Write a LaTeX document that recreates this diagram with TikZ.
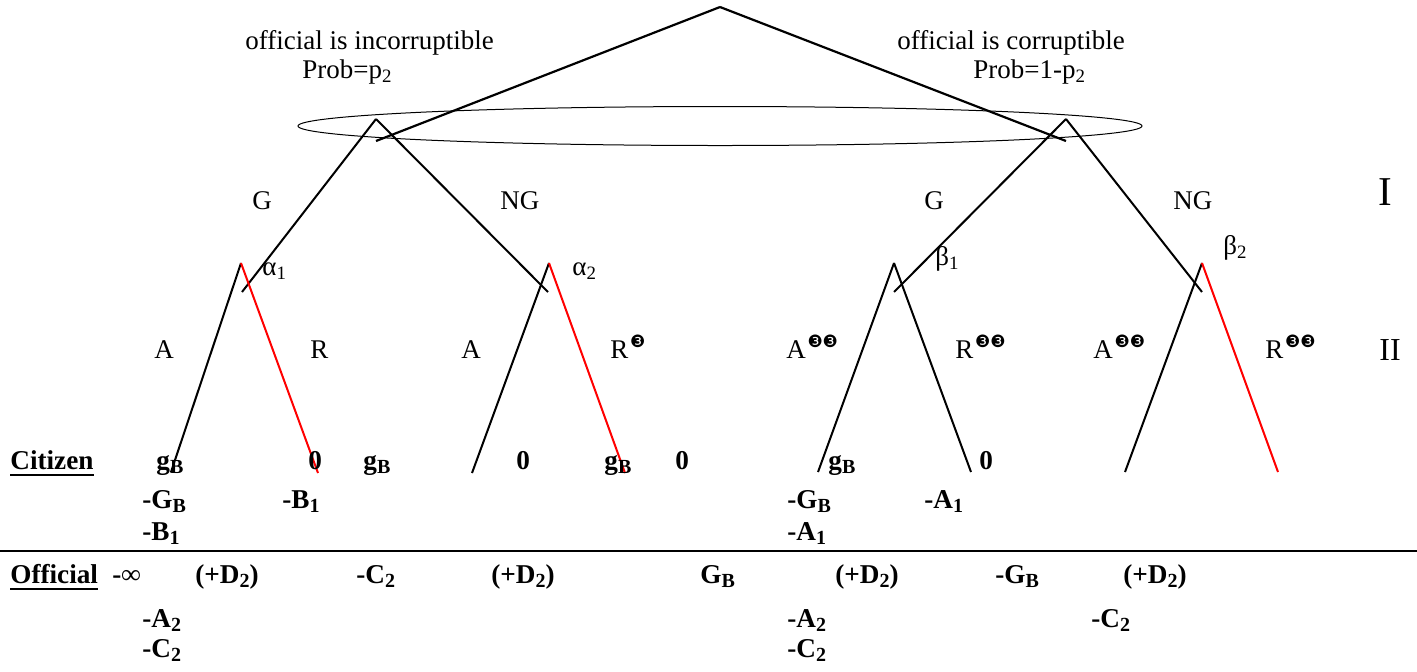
\documentclass[tikz,border=0pt]{standalone}
\usepackage{fontspec}
\usetikzlibrary{shapes.geometric}
\setmainfont{Liberation Serif}
\newfontfamily\dvfont{DejaVu Sans}
\newcommand{\dingc}{\raisebox{5.2pt}{\dvfont\fontsize{8.5}{8.5}\selectfont ❸}}
\newcommand{\sbs}[1]{\textsubscript{#1}}
\newcommand{\psb}[1]{\raisebox{-2.2pt}{\fontsize{10}{10}\selectfont #1}}
\begin{document}
\begin{tikzpicture}[x=0.5pt,y=-0.5pt,
  edge/.style={line width=1pt,black},
  redge/.style={line width=1pt,red},
  lbl/.style={font=\fontsize{13.5}{13.5}\selectfont,inner sep=0pt,anchor=base west},
  pay/.style={font=\fontsize{13.6}{13.6}\selectfont\bfseries,inner sep=0pt,anchor=base west},
  ulin/.style={line width=1.3pt,black}]
\useasboundingbox (0,0) rectangle (1417,671);
% vertices
\coordinate (root) at (720,7);
\coordinate (nL) at (376,119);  \coordinate (nLe) at (376,141);
\coordinate (nR) at (1066,119); \coordinate (nRe) at (1066,141);
\coordinate (a1) at (241,263);  \coordinate (a1e) at (242,292);
\coordinate (a2) at (549,263);  \coordinate (a2e) at (548,292);
\coordinate (b1) at (894,263);  \coordinate (b1e) at (894,292);
\coordinate (b2) at (1202,263); \coordinate (b2e) at (1202,292);
\coordinate (l1) at (171,472); \coordinate (l2) at (318,473);
\coordinate (l3) at (472,473); \coordinate (l4) at (625,473);
\coordinate (l5) at (818,472); \coordinate (l6) at (971,472);
\coordinate (l7) at (1125,472); \coordinate (l8) at (1278,472);
% information set
\node[draw,line width=0.5pt,ellipse,minimum width=422pt,minimum height=19.5pt,inner sep=0pt] (info) at (720,126) {};
% tree
\draw[line width=1.1pt] (root) -- (nLe);
\draw[line width=1.1pt] (root) -- (nRe);
\draw[edge] (nL) -- (a1e);
\draw[edge] (nL) -- (a2e);
\draw[edge] (nR) -- (b1e);
\draw[edge] (nR) -- (b2e);
\draw[edge] (a1) -- (l1);
\draw[redge] (a1) -- (l2);
\draw[edge] (a2) -- (l3);
\draw[redge] (a2) -- (l4);
\draw[edge] (b1) -- (l5);
\draw[edge] (b1) -- (l6);
\draw[edge] (b2) -- (l7);
\draw[redge] (b2) -- (l8);
% top labels
\node[lbl] (t1) at (245,49) {official is incorruptible};
\node[lbl] (t2) at (302,78) {Prob=p\sbs{2}};
\node[lbl] (t3) at (897,49) {official is corruptible};
\node[lbl] (t4) at (973,78) {Prob=1-p\sbs{2}};
% branch labels
\node[lbl] (g1) at (252,209) {G};
\node[lbl] (ng1) at (500,209) {NG};
\node[lbl] (g2) at (924,209) {G};
\node[lbl] (ng2) at (1173,209) {NG};
\node[lbl] (al1) at (262,275) {α\sbs{1}};
\node[lbl] (al2) at (572,275) {α\sbs{2}};
\node[lbl] (be1) at (935,265) {β\sbs{1}};
\node[lbl] (be2) at (1223,254) {β\sbs{2}};
\node[lbl] (A1) at (154,358) {A};
\node[lbl] (R1) at (310,358) {R};
\node[lbl] (A2) at (461,358) {A};
\node[lbl] (R2) at (610,358) {R\kern0.8pt\dingc};
\node[lbl] (A3) at (786,358) {A\kern0.8pt\dingc\dingc};
\node[lbl] (R3) at (955,358) {R\kern0.8pt\dingc\dingc};
\node[lbl] (A4) at (1093,358) {A\kern0.8pt\dingc\dingc};
\node[lbl] (R4) at (1265,358) {R\kern0.8pt\dingc\dingc};
\node[lbl,font=\fontsize{20.5}{20.5}\selectfont] (lvI) at (1378,205) {I};
\node[lbl,font=\fontsize{16}{16}\selectfont] (lvII) at (1379,360) {II};
% payoffs: citizen
\node[pay] (cit) at (10,469) {Citizen};
\draw[ulin] ([yshift=-3pt]cit.base west) -- ([yshift=-3pt]cit.base east);
\node[pay] (c1) at (156,469) {g\psb{B}};
\node[pay] (c2) at (308,469) {0};
\node[pay] (c3) at (363,469) {g\psb{B}};
\node[pay] (c4) at (516,469) {0};
\node[pay] (c5) at (604,469) {g\psb{B}};
\node[pay] (c6) at (675,469) {0};
\node[pay] (c7) at (828,469) {g\psb{B}};
\node[pay] (c8) at (979,469) {0};
\node[pay] (c9) at (142,508) {-G\psb{B}};
\node[pay] (c10) at (282,508) {-B\psb{1}};
\node[pay] (c11) at (787,508) {-G\psb{B}};
\node[pay] (c12) at (924,508) {-A\psb{1}};
\node[pay] (c13) at (142,540) {-B\psb{1}};
\node[pay] (c14) at (787,540) {-A\psb{1}};
% separator
\coordinate (sepL) at (0,551);
\coordinate (sepR) at (1417,551);
\draw[line width=1.4pt] (sepL) -- (sepR);
% payoffs: official
\node[pay] (off) at (10,583) {Official};
\draw[ulin] ([yshift=-3pt]off.base west) -- ([yshift=-3pt]off.base east);
\node[pay] (o1) at (112,583) {-∞};
\node[pay] (o2) at (195,583) {(+D\psb{2})};
\node[pay] (o3) at (356,583) {-C\psb{2}};
\node[pay] (o4) at (491,583) {(+D\psb{2})};
\node[pay] (o5) at (700,583) {G\psb{B}};
\node[pay] (o6) at (835,583) {(+D\psb{2})};
\node[pay] (o7) at (995,583) {-G\psb{B}};
\node[pay] (o8) at (1123,583) {(+D\psb{2})};
\node[pay] (o9) at (142,627) {-A\psb{2}};
\node[pay] (o10) at (787,627) {-A\psb{2}};
\node[pay] (o11) at (1091,627) {-C\psb{2}};
\node[pay] (o12) at (142,657) {-C\psb{2}};
\node[pay] (o13) at (787,657) {-C\psb{2}};
\end{tikzpicture}
\end{document}
